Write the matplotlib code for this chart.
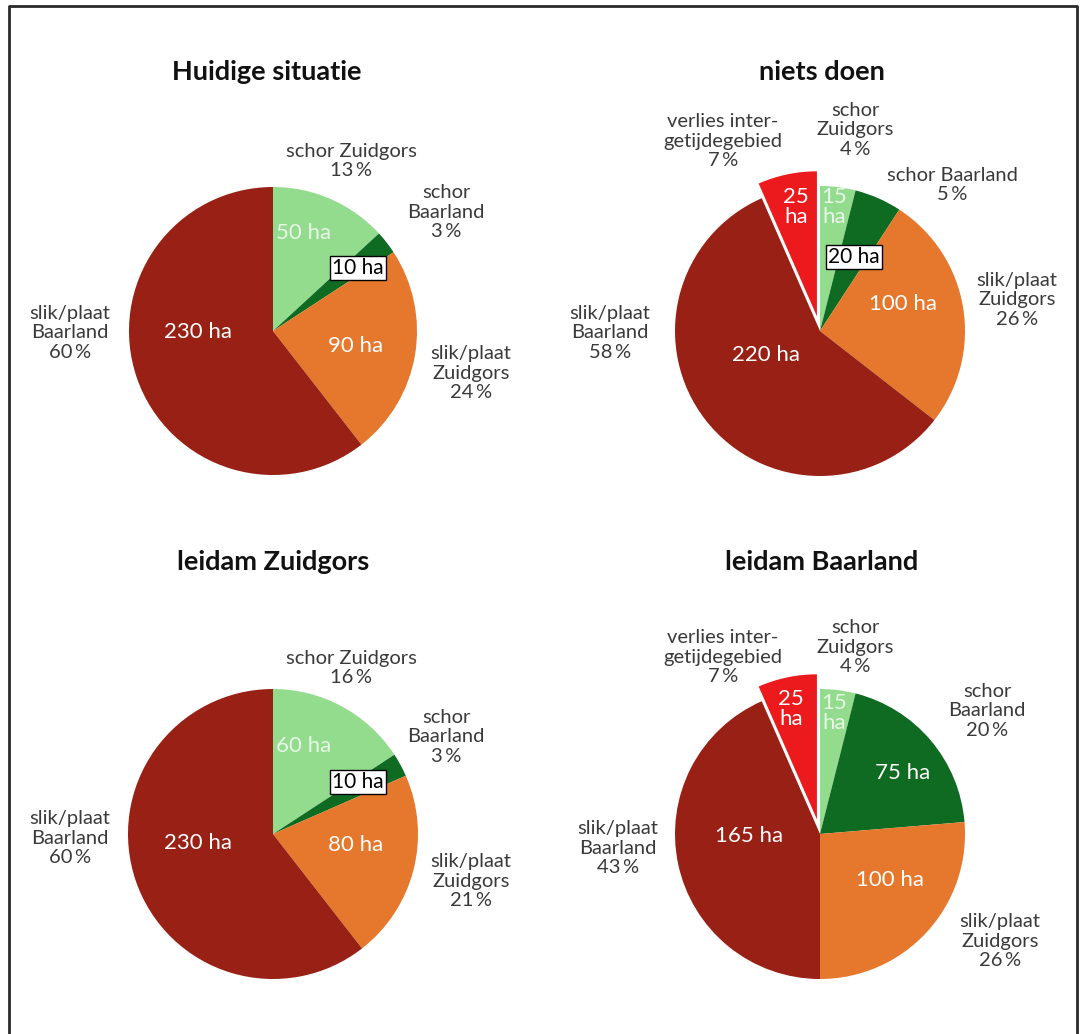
import matplotlib
matplotlib.use("Agg")
import matplotlib.pyplot as plt
from matplotlib.lines import Line2D

plt.rcParams['font.family'] = ['Lato', 'DejaVu Sans']

W, H = 1085, 1034

# Areas in hectares, clockwise from 12 o'clock
categories = ["schor Zuidgors", "schor Baarland", "slik/plaat Zuidgors",
              "slik/plaat Baarland", "verlies intergetijdegebied"]
titles = ["Huidige situatie", "niets doen", "leidam Zuidgors", "leidam Baarland"]
ha_huidig = [50, 10, 90, 230]
ha_niets = [15, 20, 100, 220, 25]
ha_zuidgors = [60, 10, 80, 230]
ha_baarland = [15, 75, 100, 165, 25]
pct_huidig = [13, 3, 24, 60]
pct_niets = [4, 5, 26, 58, 7]
pct_zuidgors = [16, 3, 21, 60]
pct_baarland = [4, 20, 26, 43, 7]

colors = ["#93dc8e", "#0f6a22", "#e5782c", "#992015", "#ec1a1c"]
TEXT = "#3a3a3a"
PCT_SEP = "\u2009%"

fig = plt.figure(figsize=(W / 100, H / 100), dpi=100)
ax = fig.add_axes([0, 0, 1, 1])


def Y(py):
    return H - py


def draw_pie(values, cx, cy, r):
    # the lost-area wedge is pulled out from the centre (offset in pixels)
    explode = [15 if i == 4 else 0 for i in range(len(values))]
    ax.pie(values, colors=colors[:len(values)], startangle=90, counterclock=False,
           center=(cx, Y(cy)), radius=r, explode=explode,
           wedgeprops=dict(linewidth=0), frame=True)


def inner(txt, x, y, color="white", box=False):
    kw = dict(ha="center", va="center", fontsize=16, color=color, linespacing=1.0)
    if box:
        kw["color"] = "black"
        kw["fontsize"] = 15
        kw["bbox"] = dict(boxstyle="square,pad=0.1", fc="white", ec="black", lw=1)
    ax.text(x, Y(y), txt, **kw)


def outer(txt, x, y):
    ax.text(x, Y(y), txt, ha="center", va="center", fontsize=14.5,
            color=TEXT, linespacing=1.2)


def pct(p):
    return f"{p}{PCT_SEP}"


# Pie geometry in pixel coordinates
pies = [(273, 331, 144), (820, 331, 145), (273, 834, 145), (820, 834, 145)]
data = [ha_huidig, ha_niets, ha_zuidgors, ha_baarland]
for (cx, cy, r), vals in zip(pies, data):
    draw_pie(vals, cx, cy, r)

title_pos = [(267, 72), (822, 72), (273, 562), (822, 562)]
for t, (x, y) in zip(titles, title_pos):
    ax.text(x, Y(y), t, ha="center", va="center", fontsize=19.5,
            fontweight="bold", color="#111111")

# Huidige situatie
inner(f"{ha_huidig[0]} ha", 304, 233, color="#e8f6e6")
inner(f"{ha_huidig[1]} ha", 358, 268, box=True)
inner(f"{ha_huidig[3]} ha", 198, 332)
inner(f"{ha_huidig[2]} ha", 356, 346)
outer(f"schor Zuidgors\n{pct(pct_huidig[0])}", 351, 161)
outer(f"schor\nBaarland\n{pct(pct_huidig[1])}", 446, 212)
outer(f"slik/plaat\nBaarland\n{pct(pct_huidig[3])}", 70, 333)
outer(f"slik/plaat\nZuidgors\n{pct(pct_huidig[2])}", 471, 373)

# niets doen
inner(f"{ha_niets[4]}\nha", 796, 207)
inner(f"{ha_niets[0]}\nha", 834, 207, color="#e8f6e6")
inner(f"{ha_niets[1]} ha", 854, 257, box=True)
inner(f"{ha_niets[2]} ha", 903, 304)
inner(f"{ha_niets[3]} ha", 766, 355)
outer(f"verlies inter-\ngetijdegebied\n{pct(pct_niets[4])}", 723, 141)
outer(f"schor\nZuidgors\n{pct(pct_niets[0])}", 855, 130)
outer(f"schor Baarland\n{pct(pct_niets[1])}", 952, 185)
outer(f"slik/plaat\nBaarland\n{pct(pct_niets[3])}", 610, 333)
outer(f"slik/plaat\nZuidgors\n{pct(pct_niets[2])}", 1017, 300)

# leidam Zuidgors
inner(f"{ha_zuidgors[0]} ha", 304, 746, color="#e8f6e6")
inner(f"{ha_zuidgors[1]} ha", 358, 782, box=True)
inner(f"{ha_zuidgors[3]} ha", 198, 843)
inner(f"{ha_zuidgors[2]} ha", 356, 845)
outer(f"schor Zuidgors\n{pct(pct_zuidgors[0])}", 351, 668)
outer(f"schor\nBaarland\n{pct(pct_zuidgors[1])}", 446, 737)
outer(f"slik/plaat\nBaarland\n{pct(pct_zuidgors[3])}", 70, 838)
outer(f"slik/plaat\nZuidgors\n{pct(pct_zuidgors[2])}", 471, 881)

# leidam Baarland
inner(f"{ha_baarland[4]}\nha", 791, 709)
inner(f"{ha_baarland[0]}\nha", 834, 713, color="#e8f6e6")
inner(f"{ha_baarland[1]} ha", 903, 773)
inner(f"{ha_baarland[3]} ha", 749, 836)
inner(f"{ha_baarland[2]} ha", 890, 880)
outer(f"verlies inter-\ngetijdegebied\n{pct(pct_baarland[4])}", 723, 657)
outer(f"schor\nZuidgors\n{pct(pct_baarland[0])}", 855, 647)
outer(f"schor\nBaarland\n{pct(pct_baarland[1])}", 987, 711)
outer(f"slik/plaat\nBaarland\n{pct(pct_baarland[3])}", 618, 848)
outer(f"slik/plaat\nZuidgors\n{pct(pct_baarland[2])}", 1000, 941)

ax.set_xlim(0, W)
ax.set_ylim(0, H)
ax.set_aspect("equal")
ax.axis("off")

# Frame around the panel (open at the bottom)
frame_x = [9, 9, 1077, 1077]
frame_y = [Y(H + 5), Y(6), Y(6), Y(H + 5)]
ax.add_line(Line2D(frame_x, frame_y, color="#2a2a2a", lw=2.0, clip_on=False))

fig.savefig("out.png", dpi=100, facecolor="white")
